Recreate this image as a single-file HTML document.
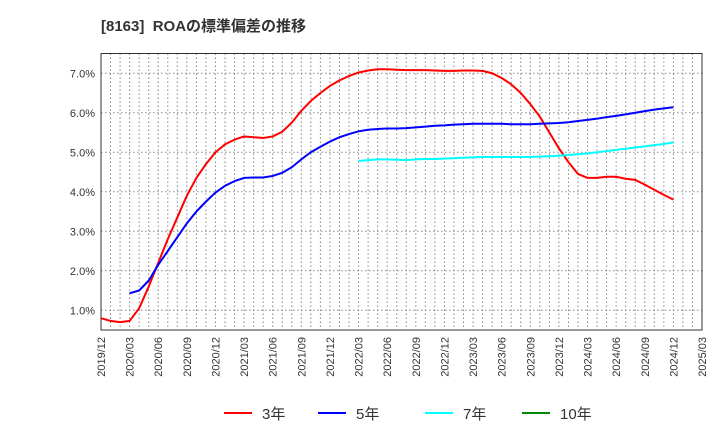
<!DOCTYPE html>
<html><head><meta charset="utf-8"><style>
body{margin:0;background:#fff;font-family:"Liberation Sans","Noto Sans CJK JP",sans-serif}
</style></head><body>
<svg width="720" height="440" xmlns="http://www.w3.org/2000/svg">
<text x="101" y="31" font-size="15" font-weight="bold" fill="#333">[8163]&#160;&#160;ROAの標準偏差の推移</text>
<g id="grid"></g><g id="axes"></g><g id="series"></g><g id="legend"></g>
</svg>
<script>
const xLabels=["2019/12","2020/03","2020/06","2020/09","2020/12","2021/03","2021/06","2021/09","2021/12","2022/03","2022/06","2022/09","2022/12","2023/03","2023/06","2023/09","2023/12","2024/03","2024/06","2024/09","2024/12","2025/03"];
const yTicks=[1,2,3,4,5,6,7];
const s3=[0.80,0.73,0.70,0.73,1.05,1.6,2.2,2.8,3.35,3.9,4.35,4.7,5.0,5.2,5.32,5.4,5.38,5.36,5.4,5.52,5.75,6.05,6.3,6.5,6.68,6.82,6.93,7.02,7.07,7.1,7.1,7.09,7.08,7.08,7.08,7.07,7.06,7.06,7.07,7.07,7.06,7.0,6.88,6.72,6.5,6.22,5.9,5.5,5.1,4.75,4.45,4.35,4.35,4.38,4.38,4.33,4.3,4.18,4.05,3.92,3.8];
const s5start=3;
const s5=[1.43,1.5,1.75,2.15,2.5,2.85,3.2,3.5,3.75,3.98,4.15,4.27,4.35,4.36,4.36,4.4,4.48,4.62,4.82,5.0,5.14,5.27,5.38,5.46,5.53,5.57,5.59,5.6,5.6,5.61,5.63,5.65,5.67,5.68,5.7,5.71,5.72,5.72,5.72,5.72,5.71,5.71,5.71,5.72,5.73,5.74,5.76,5.79,5.82,5.85,5.89,5.92,5.96,6.0,6.04,6.08,6.11,6.14];
const s7start=27;
const s7=[4.78,4.8,4.82,4.82,4.81,4.8,4.82,4.83,4.83,4.84,4.85,4.86,4.87,4.88,4.88,4.88,4.88,4.88,4.88,4.89,4.9,4.91,4.93,4.95,4.97,5.0,5.03,5.06,5.09,5.12,5.15,5.18,5.21,5.25];
const L=101,R=702,T=53.5,B=330,NM=63;
const xs=i=>L+(R-L)*i/NM;
const ys=v=>B-(v-0.5)*(B-T)/7;
const NS="http://www.w3.org/2000/svg";
function mk(p,t,a){const e=document.createElementNS(NS,t);for(const k in a)e.setAttribute(k,a[k]);p.appendChild(e);return e;}
const grid=document.getElementById('grid'),axes=document.getElementById('axes'),ser=document.getElementById('series'),leg=document.getElementById('legend');
for(let i=1;i<NM;i++){const l=mk(grid,'line',{x1:xs(i),x2:xs(i),y1:T,y2:B,stroke:'#888','stroke-dasharray':'1.5,2.5','stroke-width':1});

}
yTicks.forEach(v=>{const l=mk(grid,'line',{x1:L,x2:R,y1:ys(v),y2:ys(v),stroke:'#888','stroke-dasharray':'1.5,2.5'});


const t=mk(axes,'text',{x:L-6,y:ys(v)+4,'text-anchor':'end','font-size':11,fill:'#333'});t.textContent=v.toFixed(1)+'%';

});
const fr=mk(axes,'rect',{x:L,y:T,width:R-L,height:B-T,fill:'none',stroke:'#333'});


xLabels.forEach((s,k)=>{const x=xs(k*3);const t=mk(axes,'text',{transform:`translate(${x+4},${B+7}) rotate(-90)`,'text-anchor':'end','font-size':11,fill:'#333'});t.textContent=s;

});
function line(arr,start,color,name){const p=mk(ser,'polyline',{points:arr.map((v,i)=>xs(start+i)+','+ys(v)).join(' '),fill:'none',stroke:color,'stroke-width':2,'stroke-linejoin':'round'});

}
line(s3,0,'#f00','series-3yr');line(s5,s5start,'#00f','series-5yr');line(s7,s7start,'#0ff','series-7yr');
[['3年','#f00',224],['5年','#00f',318],['7年','#0ff',425],['10年','#080',522]].forEach(([n,c,x])=>{
const g=mk(leg,'g',{});


mk(g,'line',{x1:x,x2:x+28,y1:413,y2:413,stroke:c,'stroke-width':2});
const t=mk(g,'text',{x:x+38,y:419,'font-size':15,fill:'#333'});t.textContent=n;});
</script>
</body></html>
